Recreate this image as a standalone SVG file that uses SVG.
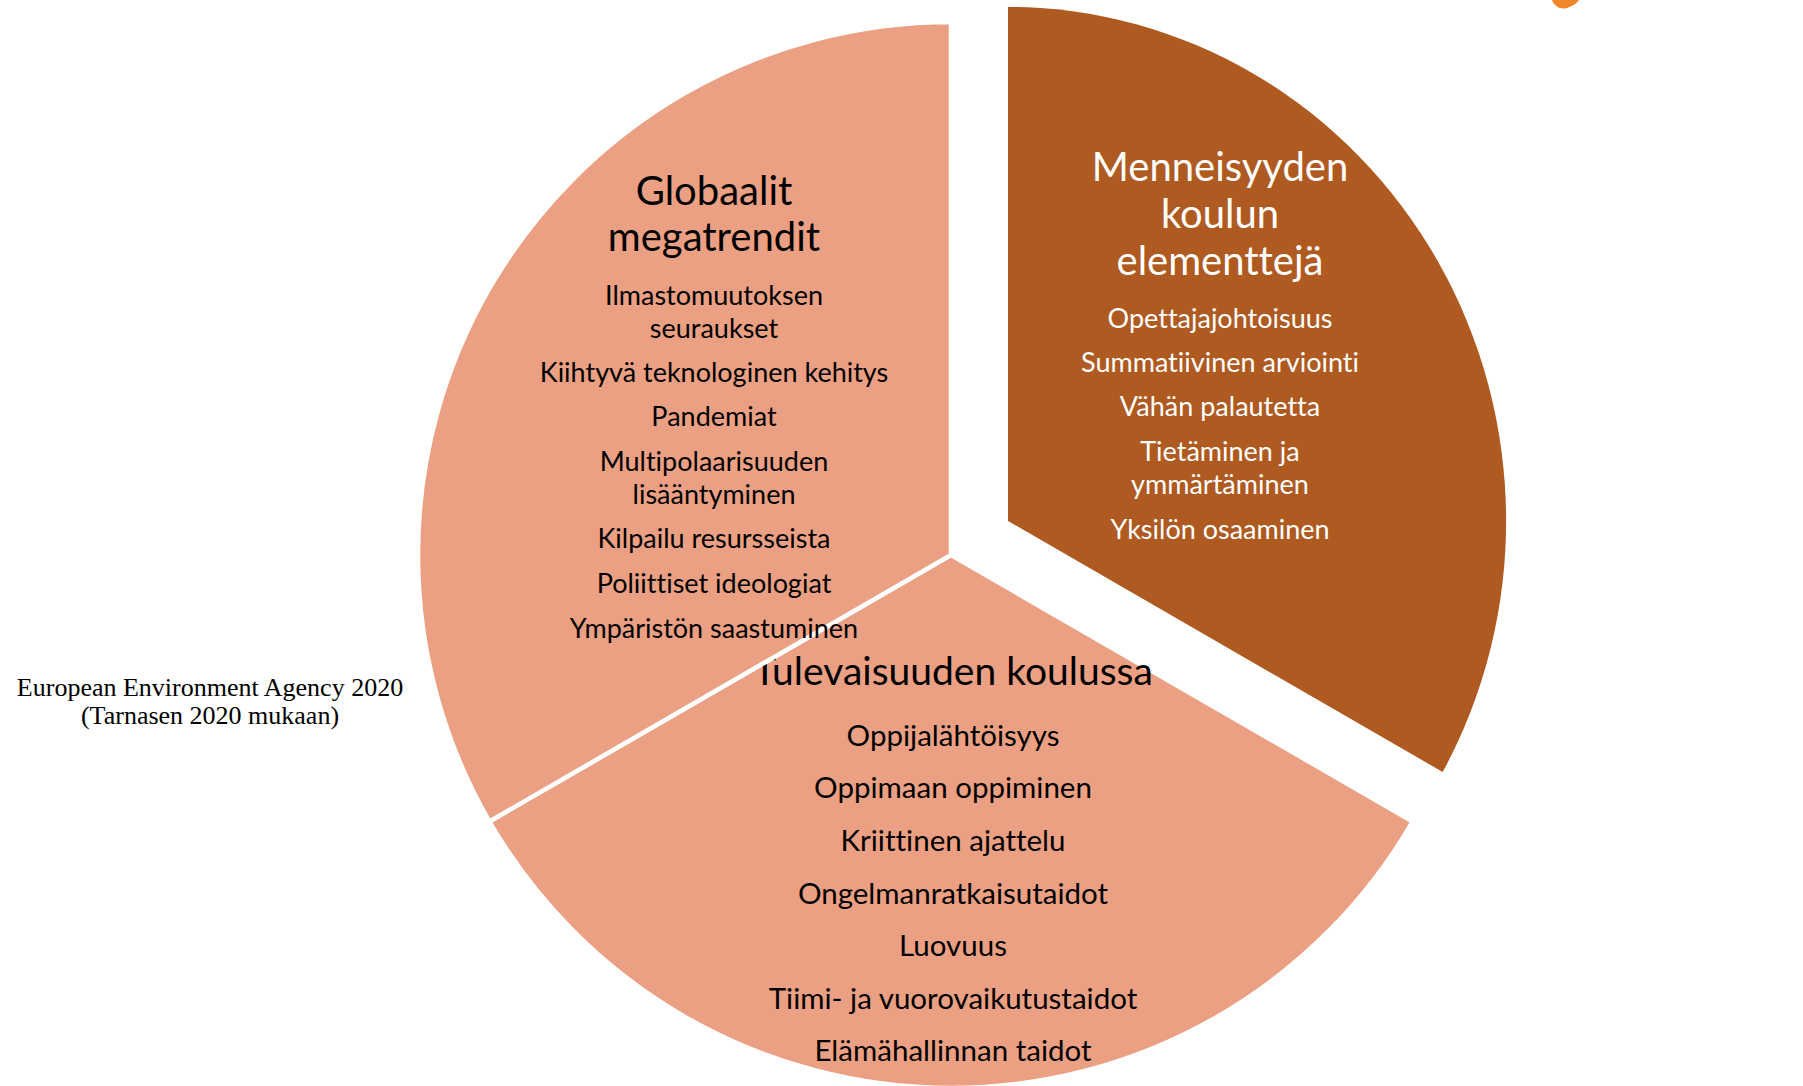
<svg xmlns="http://www.w3.org/2000/svg" width="1803" height="1086" viewBox="0 0 1803 1086">
<style>
.light{fill:#ECA083;stroke:#fff;stroke-width:4.5;stroke-linejoin:miter}
.dark{fill:#AE5A21}
.t{font-family:Lato,"Open Sans","Liberation Sans",sans-serif;text-anchor:middle;fill:#000;font-variant-ligatures:none;font-feature-settings:"liga" 0}
.w{fill:#fff}
.h{font-size:40px}
.h2{font-size:39px}
.i{font-size:27px}
.b{font-size:29.5px}
.cap{font-family:"Liberation Serif","DejaVu Serif",serif;font-size:26px;text-anchor:middle;fill:#000}
</style>
<rect width="1803" height="1086" fill="#fff"/>
<g id="logo-fragment">
<path d="M1552,0 C1554,6 1560,10 1567,8 C1573,6 1577,3 1579,0 Z" fill="#F0862C"/>
</g>
<g id="node-menneisyyden">
<path class="dark" d="M1008,521 L1008,7 A498,514 0 0 1 1442.7,772 Z"/>
<text class="t h w" x="1220" y="181">Menneisyyden</text>
<text class="t h w" x="1220" y="228">koulun</text>
<text class="t h w" x="1220" y="275">elementtejä</text>
<text class="t i w" x="1220" y="328">Opettajajohtoisuus</text>
<text class="t i w" x="1220" y="372">Summatiivinen arviointi</text>
<text class="t i w" x="1220" y="416">Vähän palautetta</text>
<text class="t i w" x="1220" y="461">Tietäminen ja</text>
<text class="t i w" x="1220" y="494">ymmärtäminen</text>
<text class="t i w" x="1220" y="539">Yksilön osaaminen</text>
</g>
<g id="node-tulevaisuuden">
<path class="light" d="M951,555 L489.4,821.5 A533,533 0 0 0 1412.6,821.5 Z"/>
<text class="t h2" x="953" y="685">Tulevaisuuden koulussa</text>
<text class="t b" x="953" y="746">Oppijalähtöisyys</text>
<text class="t b" x="953" y="798">Oppimaan oppiminen</text>
<text class="t b" x="953" y="851">Kriittinen ajattelu</text>
<text class="t b" x="953" y="904">Ongelmanratkaisutaidot</text>
<text class="t b" x="953" y="956">Luovuus</text>
<text class="t b" x="953" y="1009">Tiimi- ja vuorovaikutustaidot</text>
<text class="t b" x="953" y="1061">Elämähallinnan taidot</text>
</g>
<g id="node-globaalit">
<path class="light" d="M951,555 L951,22 A533,533 0 0 0 489.4,821.5 Z"/>
<text class="t h" x="714" y="205">Globaalit</text>
<text class="t h" x="714" y="251">megatrendit</text>
<text class="t i" x="714" y="305">Ilmastomuutoksen</text>
<text class="t i" x="714" y="338">seuraukset</text>
<text class="t i" x="714" y="382">Kiihtyvä teknologinen kehitys</text>
<text class="t i" x="714" y="426">Pandemiat</text>
<text class="t i" x="714" y="471">Multipolaarisuuden</text>
<text class="t i" x="714" y="504">lisääntyminen</text>
<text class="t i" x="714" y="548">Kilpailu resursseista</text>
<text class="t i" x="714" y="593">Poliittiset ideologiat</text>
<text class="t i" x="714" y="638">Ympäristön saastuminen</text>
</g>
<g id="caption">
<text class="cap" x="210" y="696">European Environment Agency 2020</text>
<text class="cap" x="210" y="724">(Tarnasen 2020 mukaan)</text>
</g>
</svg>
